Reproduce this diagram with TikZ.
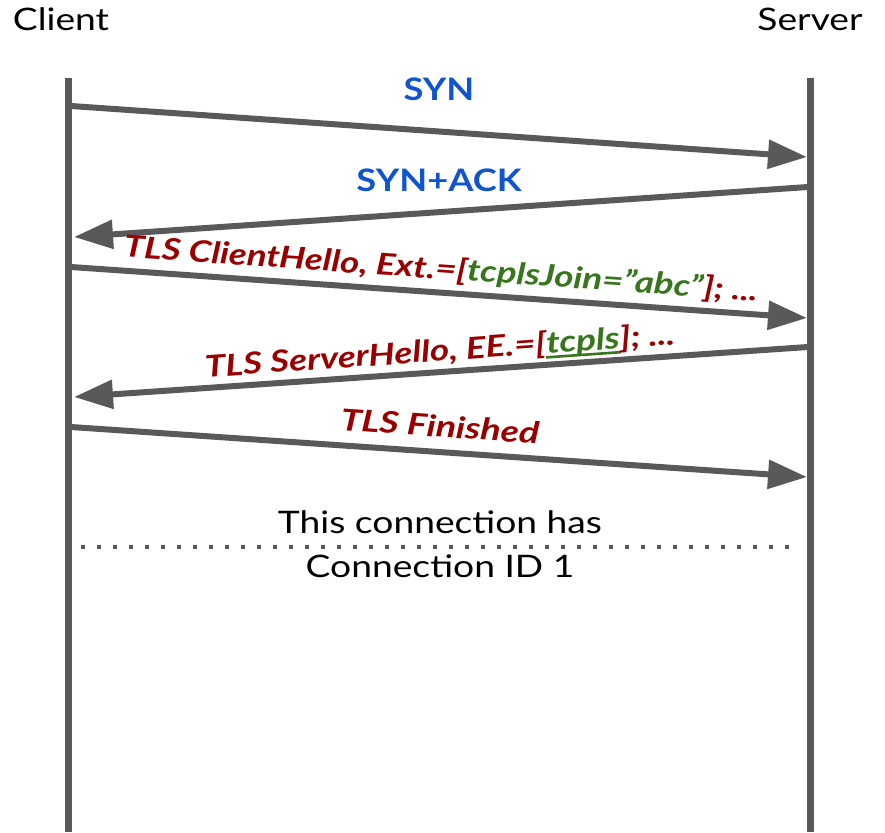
\documentclass[tikz,border=0pt]{standalone}
\usepackage{fontspec}
\setmainfont{Lato}
\usetikzlibrary{arrows.meta}
\definecolor{lgray}{HTML}{595959}
\definecolor{mblue}{HTML}{1155CC}
\definecolor{mred}{HTML}{990000}
\definecolor{mgreen}{HTML}{38761D}
\newcommand\myul[1]{\setbox0\hbox{#1}\rlap{\hspace{-1pt}\rule[-5pt]{\dimexpr\wd0+1pt\relax}{2.6pt}}\box0}
\tikzset{
  lifeline/.style={draw=lgray, line width=7pt},
  msg/.style={draw=lgray, line width=6pt, -{Triangle[length=39pt,width=28pt]}},
  bluelbl/.style={text=mblue, font=\fontsize{31}{36}\selectfont\bfseries, inner sep=0pt},
  redlbl/.style={text=mred, font=\fontsize{30}{36}\selectfont\bfseries\itshape, inner sep=0pt},
  plain/.style={text=black, font=\fontsize{31}{36}\selectfont, inner sep=0pt},
}
\begin{document}
\begin{tikzpicture}[x=1pt,y=-1pt]
\useasboundingbox[fill=white] (0,0) rectangle (885,832);
% lifelines
\coordinate (ct) at (68,78); \coordinate (cb) at (68,832);
\coordinate (st) at (810,78); \coordinate (sb) at (810,832);
\draw[lifeline] (ct) -- (cb);
\draw[lifeline] (st) -- (sb);
\node[plain] (client) at (61,19) {\scalebox{1.2}[1]{Client}};
\node[plain] (server) at (810,19) {\scalebox{1.2}[1]{Server}};
% message endpoints
\coordinate (a1) at (71,106); \coordinate (b1) at (807,157);
\coordinate (a2) at (808,187); \coordinate (b2) at (74,237);
\coordinate (a3) at (71,267); \coordinate (b3) at (807,318);
\coordinate (a4) at (808,347); \coordinate (b4) at (74,397);
\coordinate (a5) at (71,427); \coordinate (b5) at (807,477);
\draw[msg] (a1) -- (b1);
\draw[msg] (a2) -- (b2);
\draw[msg] (a3) -- (b3);
\draw[msg] (a4) -- (b4);
\draw[msg] (a5) -- (b5);
% labels
\node[bluelbl] (syn) at (439,89) {\scalebox{1.17}[1]{SYN}};
\node[bluelbl] (synack) at (439,180) {\scalebox{1.17}[1]{SYN+ACK}};
\node[redlbl, rotate=-4] (ch) at (441,270) {\scalebox{1.22}[1]{TLS ClientHello, Ext.=[\textcolor{mgreen}{tcplsJoin=”abc”}]; ...}};
\node[redlbl, rotate=4] (sh) at (440,352) {\scalebox{1.23}[1]{TLS ServerHello, EE.=[\textcolor{mgreen}{\myul{tcpls}}]; ...}};
\node[redlbl, rotate=-4] (fin) at (440,426) {\scalebox{1.25}[1]{TLS Finished}};
% dotted separator
\coordinate (d1) at (81,547); \coordinate (d2) at (793,547);
\draw[lgray, line width=4pt, dash pattern=on 4pt off 12pt] (d1) -- (d2);
\node[plain] (t1) at (440,522) {\scalebox{1.2}[1]{This connection has}};
\node[plain] (t2) at (440,566) {\scalebox{1.2}[1]{Connection ID 1}};
\end{tikzpicture}
\end{document}
